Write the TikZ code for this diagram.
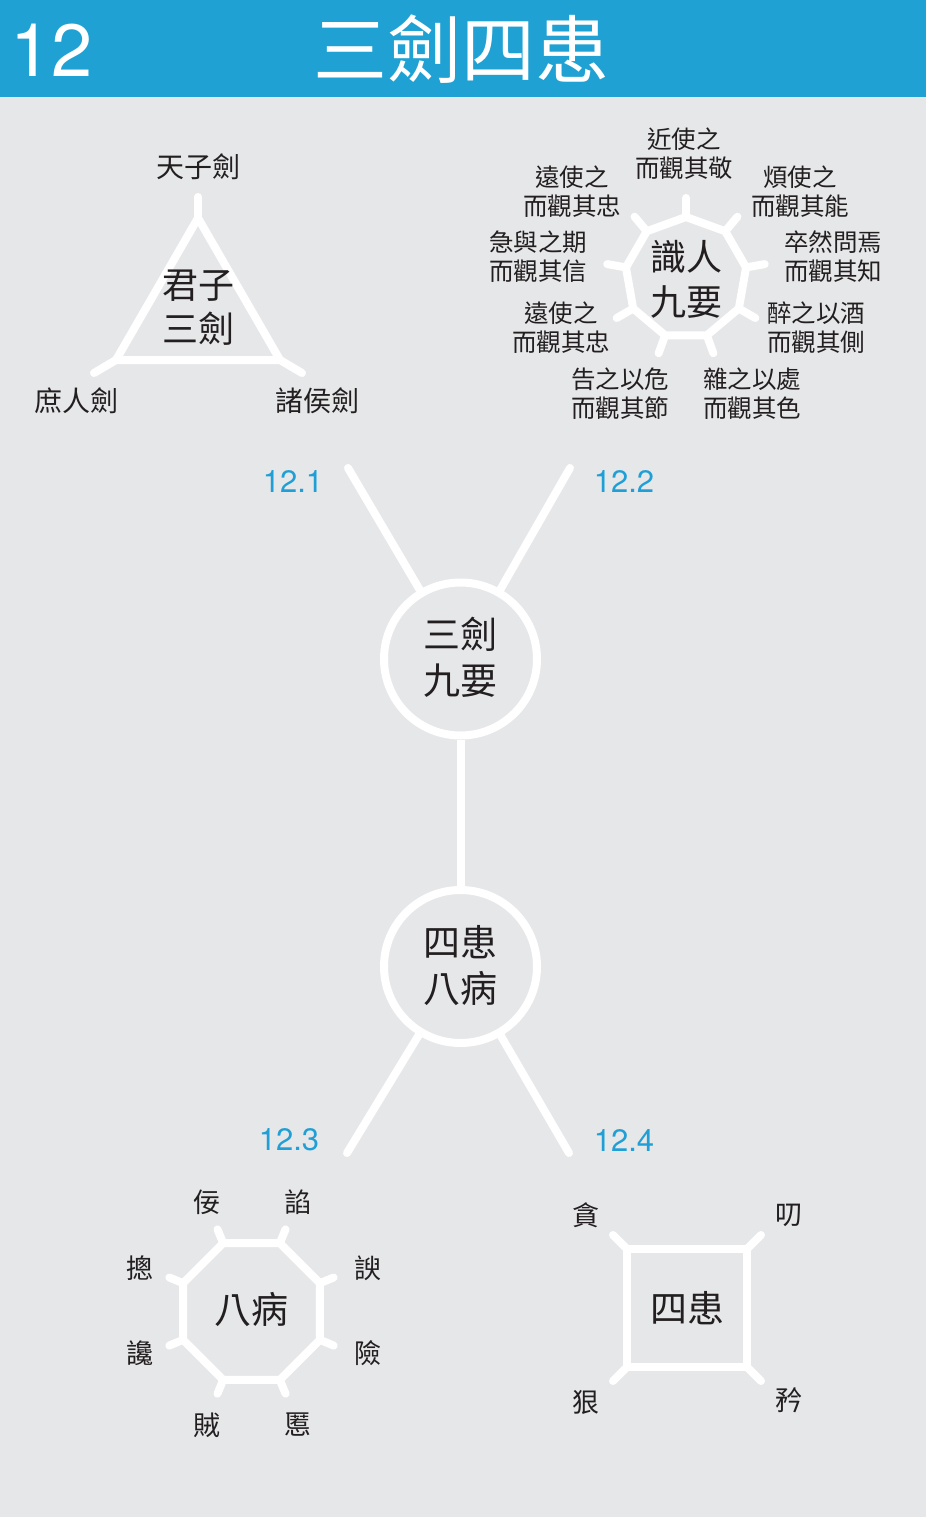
\documentclass[tikz,border=0pt]{standalone}
\usepackage{fontspec}
\usetikzlibrary{calc}
\newfontfamily\cjk{Noto Sans CJK TC}
\newfontfamily\hv{TeX Gyre Heros}
\definecolor{bg}{HTML}{E6E7E9}
\definecolor{hdr}{HTML}{1FA2D3}
\definecolor{ink}{HTML}{231F20}
\definecolor{lblue}{HTML}{1F9FD6}
\begin{document}
\begin{tikzpicture}[x=1pt,y=-1pt,
  wline/.style={draw=white,line width=8pt,line cap=round,line join=miter},
  big/.style={font=\cjk\fontsize{37}{46}\selectfont,text=ink,align=center,inner sep=0pt},
  lab/.style={font=\cjk\fontsize{27}{29}\selectfont,text=ink,inner sep=0pt},
  small/.style={font=\cjk\fontsize{24.5}{29}\selectfont,text=ink,align=center,inner sep=0pt},
  num/.style={font=\hv\fontsize{31}{31}\selectfont,text=lblue,inner sep=0pt},
  hub/.style={circle,draw=white,line width=8pt,minimum size=153pt,inner sep=0pt}]
\useasboundingbox (0,0) rectangle (926,1517);
\fill[bg] (0,0) rectangle (926,1517);
\fill[hdr] (0,0) rectangle (926,97);
\node[font=\hv\fontsize{74}{74}\selectfont,text=white,anchor=base west,inner sep=0pt] (hnum) at (10,77) {12};
\node[font=\cjk\fontsize{74}{74}\selectfont,text=white,inner sep=0pt] (title) at (461,49) {三劍四患};

% hubs
\node[hub] (c1) at (460.5,659) {};
\node[hub] (c2) at (460.5,966.5) {};
\node[big] (c1t) at (c1) [yshift=2pt] {三劍\\九要};
\node[big] (c2t) at (c2) [yshift=1pt] {四患\\八病};
\draw[wline,line cap=butt] (c1) -- (c2);
\coordinate (e1) at (348,468);
\coordinate (e2) at (570,468);
\coordinate (e3) at (347,1153);
\coordinate (e4) at (569,1153);
\draw[wline] (c1) -- (e1);
\draw[wline] (c1) -- (e2);
\draw[wline] (c2) -- (e3);
\draw[wline] (c2) -- (e4);
\node[num] (n1) at (293,482) {12.1};
\node[num] (n2) at (624,482) {12.2};
\node[num] (n3) at (289,1140) {12.3};
\node[num] (n4) at (624,1140) {12.4};

% triangle
\coordinate (ta) at (198,218);
\coordinate (tl) at (116,360);
\coordinate (tr) at (280,360);
\coordinate (sa) at (198,197);
\coordinate (sl) at (94,373);
\coordinate (sr) at (302,373);
\draw[wline] (ta) -- (tr) -- (tl) -- cycle;
\draw[wline] (ta) -- (sa);
\draw[wline] (tl) -- (sl);
\draw[wline] (tr) -- (sr);
\node[big,font=\cjk\fontsize{36}{44}\selectfont] (tri) at (198,308) {君子\\三劍};
\node[lab,font=\cjk\fontsize{28}{29}\selectfont] (t1) at (198,167) {天子劍};
\node[lab,font=\cjk\fontsize{28}{29}\selectfont] (t2) at (76,401) {庶人劍};
\node[lab,font=\cjk\fontsize{28}{29}\selectfont] (t3) at (317,401) {諸侯劍};

% nonagon
\coordinate (N) at (686,278);
\foreach \k in {0,...,8}{
  \coordinate (nv\k) at ($(N)+({270-40*\k}:61)$);
  \coordinate (ns\k) at ($(N)+({270-40*\k}:80)$);
}
\draw[wline] (nv0) -- (nv1) -- (nv2) -- (nv3) -- (nv4) -- (nv5) -- (nv6) -- (nv7) -- (nv8) -- cycle;
\foreach \k in {0,...,8}{ \draw[wline] (nv\k) -- (ns\k); }
\node[big,font=\cjk\fontsize{36}{45}\selectfont] (nonaT) at (686,279) {識人\\九要};
\node[small] (k1) at (684,153.5) {近使之\\而觀其敬};
\node[small] (k2) at (572,191.5) {遠使之\\而觀其忠};
\node[small] (k3) at (800,191.5) {煩使之\\而觀其能};
\node[small] (k4) at (538,256.5) {急與之期\\而觀其信};
\node[small] (k5) at (833,256.5) {卒然問焉\\而觀其知};
\node[small] (k6) at (561,327.5) {遠使之\\而觀其忠};
\node[small] (k7) at (816,327.5) {醉之以酒\\而觀其側};
\node[small] (k8) at (620,393.5) {告之以危\\而觀其節};
\node[small] (k9) at (752,393.5) {雜之以處\\而觀其色};

% octagon
\coordinate (O) at (251.5,1311.5);
\foreach \k in {0,...,7}{
  \coordinate (ov\k) at ($(O)+({22.5+45*\k}:74.1)$);
  \coordinate (os\k) at ($(O)+({22.5+45*\k}:89)$);
}
\draw[wline] (ov0) -- (ov1) -- (ov2) -- (ov3) -- (ov4) -- (ov5) -- (ov6) -- (ov7) -- cycle;
\foreach \k in {0,...,7}{ \draw[wline] (ov\k) -- (os\k); }
\node[big] (octT) at (251.5,1309) {八病};
\node[lab] (b1) at (207,1202) {佞};
\node[lab] (b2) at (298,1202) {諂};
\node[lab] (b3) at (368,1268) {諛};
\node[lab] (b4) at (368,1353) {險};
\node[lab] (b5) at (298,1425) {慝};
\node[lab] (b6) at (207,1425) {賊};
\node[lab] (b7) at (140,1353) {讒};
\node[lab] (b8) at (140,1268) {摠};

% square
\coordinate (q1) at (627,1249);
\coordinate (q2) at (747,1249);
\coordinate (q3) at (747,1367);
\coordinate (q4) at (627,1367);
\coordinate (r1) at (613,1235);
\coordinate (r2) at (761,1235);
\coordinate (r3) at (761,1381);
\coordinate (r4) at (613,1381);
\draw[wline] (q1) -- (q2) -- (q3) -- (q4) -- cycle;
\draw[wline] (q1) -- (r1);
\draw[wline] (q2) -- (r2);
\draw[wline] (q3) -- (r3);
\draw[wline] (q4) -- (r4);
\node[big] (sqT) at (687,1308) {四患};
\node[lab] (d1) at (586,1215) {貪};
\node[lab] (d2) at (789,1215) {叨};
\node[lab] (d3) at (789,1400) {矜};
\node[lab] (d4) at (586,1402) {狠};
\end{tikzpicture}
\end{document}
